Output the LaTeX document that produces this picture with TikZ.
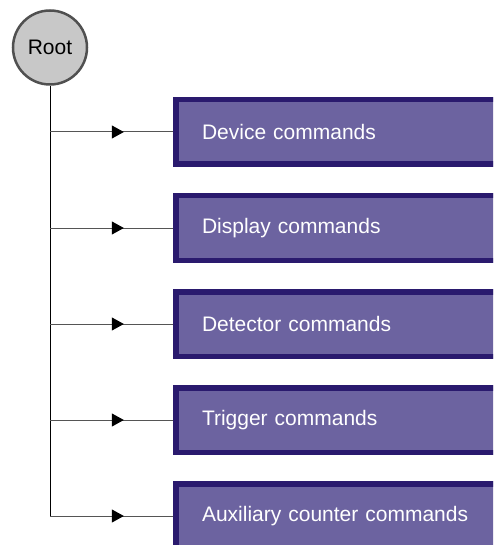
\documentclass[tikz,border=0pt]{standalone}
\usepackage{fontspec}
\setmainfont{Liberation Sans}
\usetikzlibrary{arrows.meta,decorations.markings}
\definecolor{boxfill}{HTML}{6C63A0}
\definecolor{boxline}{HTML}{2A1A6E}
\definecolor{rootfill}{HTML}{C8C8C8}
\definecolor{rootline}{HTML}{505050}
\definecolor{connline}{HTML}{555555}
\tikzset{
  cmdbox/.style={fill=boxfill, anchor=west, outer sep=0pt,
    text width=280pt, align=left, inner xsep=29pt, inner ysep=0pt,
    minimum height=70pt, text=white, font=\fontsize{21}{25}\selectfont},
  cmdedge/.style={draw=boxline, line width=5.5pt, line join=miter},
  rootnode/.style={circle, draw=rootline, fill=rootfill, line width=2.5pt,
    minimum size=74pt, inner sep=0pt, font=\fontsize{21}{25}\selectfont},
  branch/.style={draw=connline, line width=1pt,
    postaction={decorate},
    decoration={markings, mark=at position 0.6 with {\arrow[black]{Triangle[length=12pt,width=13pt]}}}},
  trunk/.style={draw=black, line width=1pt}
}
\begin{document}
\begin{tikzpicture}[x=1pt,y=-1pt]
\useasboundingbox (0,0) rectangle (493,545);
\clip (0,0) rectangle (493,545);
\node[rootnode] (root) at (50,47.5) {Root};
\foreach \i/\y/\t in {1/132/Device commands,2/228/Display commands,3/324/Detector commands,4/420/Trigger commands,5/516/Auxiliary counter commands}{
  \coordinate (b\i) at (50,\y);
  \node[cmdbox] (c\i) at (173,\y) {\t};
  \draw[cmdedge] ([yshift=-2.75pt]c\i.north east) -- ([xshift=2.75pt,yshift=-2.75pt]c\i.north west)
     -- ([xshift=2.75pt,yshift=2.75pt]c\i.south west) -- ([yshift=2.75pt]c\i.south east);
}
\draw[trunk] (root.south) -- (b5);
\foreach \i in {1,...,5}{
  \draw[branch] (b\i) -- (c\i.west);
}
\end{tikzpicture}
\end{document}
